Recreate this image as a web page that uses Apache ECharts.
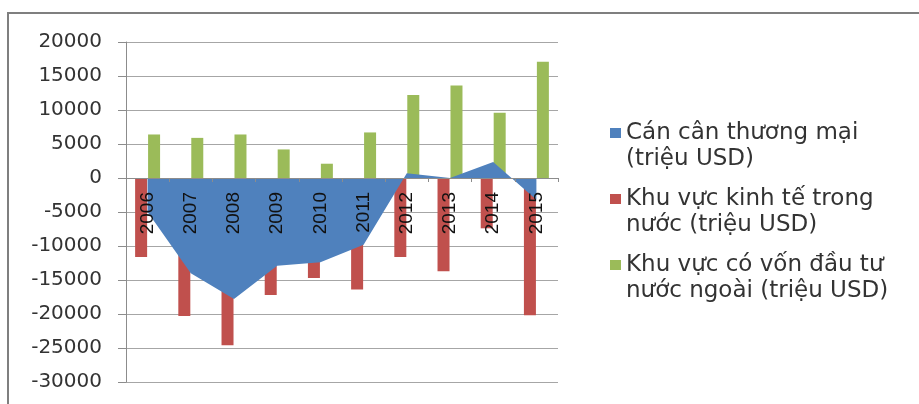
<!DOCTYPE html>
<html>
<head>
<meta charset="utf-8">
<script src="https://cdn.jsdelivr.net/npm/echarts@6/dist/echarts.min.js"></script>
<style>
  html, body { margin: 0; padding: 0; background: #fff; }
  #chart { width: 919px; height: 404px; }
</style>
</head>
<body>
<div id="chart"></div>
<script>
// Years on the category axis
const years = ['2006', '2007', '2008', '2009', '2010', '2011', '2012', '2013', '2014', '2015'];

// Trade balance (million USD), drawn as a filled area
const tradeBalance = [-5000, -14000, -17800, -12900, -12400, -9800, 700, 0, 2350, -3200];

// Domestic sector net trade (million USD)
const domesticSector = [-11600, -20300, -24600, -17200, -14700, -16400, -11600, -13700, -7400, -20200];

// Foreign-invested sector net trade (million USD)
const foreignSector = [6400, 5900, 6400, 4200, 2100, 6700, 12200, 13600, 9600, 17100];

// Legend / series names (line breaks as shown in the legend)
const seriesNames = [
  'Cán cân thương mại\n(triệu USD)',
  'Khu vực kinh tế trong\nnước (triệu USD)',
  'Khu vực có vốn đầu tư\nnước ngoài (triệu USD)'
];

// Value axis range and step
const yMin = -30000;
const yMax = 20000;
const yStep = 5000;

// Plot box in pixels
const gridTop = 42;
const gridBottom = 22;
const gridHeight = 404 - gridTop - gridBottom;
// Raise the category axis from the bottom edge up to the zero line
const zeroOffset = -gridHeight * (0 - yMin) / (yMax - yMin);

const chart = echarts.init(document.getElementById('chart'), null, { renderer: 'canvas' });

chart.setOption({
  animation: false,
  backgroundColor: '#ffffff',
  graphic: [{
    type: 'rect',
    shape: { x: 8, y: 13, width: 1000, height: 500 },
    style: { fill: 'none', stroke: '#7f7f7f', lineWidth: 2 },
    silent: true,
    z: -1
  }],
  grid: {
    left: 126, right: 361, top: gridTop, bottom: gridBottom,
    containLabel: false,
    outerBoundsMode: 'none'
  },
  legend: {
    orient: 'vertical',
    left: 610,
    top: 120,
    padding: 0,
    itemWidth: 11,
    itemHeight: 36,
    itemGap: 14,
    icon: 'path://M0,0H11V10H0Z M0,36h1',
    itemStyle: { borderWidth: 0 },
    textStyle: { fontFamily: 'DejaVu Sans', fontSize: 23, lineHeight: 26, color: '#333333' },
    selectedMode: false
  },
  xAxis: {
    type: 'category',
    data: years,
    boundaryGap: true,
    position: 'bottom',
    offset: zeroOffset,
    z: 10,
    axisLine: { onZero: false, lineStyle: { color: '#8c8c8c', width: 1 } },
    axisTick: { show: true, length: 4, lineStyle: { color: '#8c8c8c' } },
    axisLabel: {
      interval: 0,
      rotate: 90,
      margin: 14,
      fontFamily: 'Liberation Sans',
      fontSize: 19,
      color: '#111111'
    },
    splitLine: { show: false }
  },
  yAxis: {
    type: 'value',
    min: yMin,
    max: yMax,
    interval: yStep,
    axisLine: { show: true, lineStyle: { color: '#8c8c8c', width: 1 } },
    axisTick: { show: true, length: 8, lineStyle: { color: '#8c8c8c' } },
    axisLabel: {
      margin: 24,
      fontFamily: 'DejaVu Sans',
      fontSize: 20,
      color: '#333333',
      formatter: function (v) { return String(v); }
    },
    splitLine: { show: true, lineStyle: { color: '#a6a6a6', width: 1 } }
  },
  series: [
    {
      name: seriesNames[0],
      type: 'line',
      data: tradeBalance,
      showSymbol: false,
      symbol: 'none',
      color: '#4f81bd',
      lineStyle: { width: 0, color: '#4f81bd' },
      areaStyle: { color: '#4f81bd', opacity: 1 }
    },
    {
      name: seriesNames[1],
      type: 'bar',
      data: domesticSector,
      color: '#c0504d',
      barWidth: 12,
      barGap: '8%'
    },
    {
      name: seriesNames[2],
      type: 'bar',
      data: foreignSector,
      color: '#9bbb59',
      barWidth: 12,
      barGap: '8%'
    }
  ]
});
</script>
</body>
</html>
